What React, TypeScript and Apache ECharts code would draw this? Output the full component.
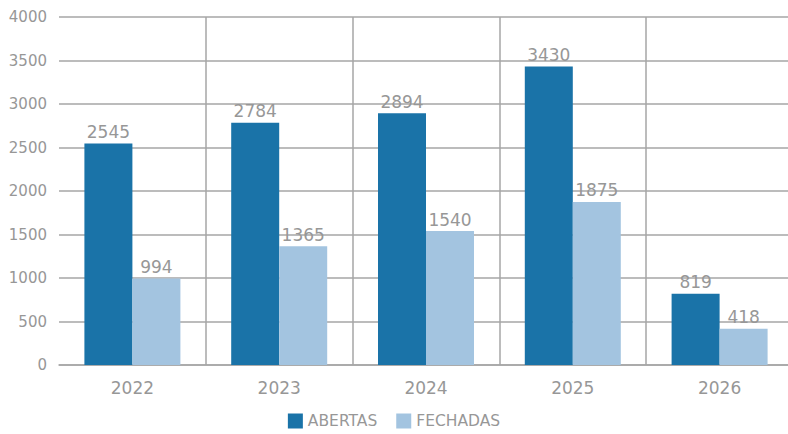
import React, { useEffect, useRef } from "react";
import * as echarts from "echarts";

const categories = ["2022", "2023", "2024", "2025", "2026"];
const abertas = [2545, 2784, 2894, 3430, 819];
const fechadas = [994, 1365, 1540, 1875, 418];
const seriesNames = ["ABERTAS", "FECHADAS"];

const FONT = "'DejaVu Sans', sans-serif";
const GREY = "#979797";

export default function App() {
  const ref = useRef<HTMLDivElement>(null);
  useEffect(() => {
    if (!ref.current) return;
    const chart = echarts.init(ref.current, null, { renderer: "svg" });
    const label = {
      show: true,
      position: "top",
      distance: 3,
      color: GREY,
      fontSize: 17,
      fontFamily: FONT,
      fontWeight: "normal",
    };
    chart.setOption({
      animation: false,
      grid: {
        left: 59,
        width: 734,
        top: 17,
        bottom: 69,
        containLabel: false,
        outerBoundsMode: "none",
      },
      legend: {
        bottom: 0,
        left: "center",
        itemWidth: 15,
        itemHeight: 15,
        itemGap: 19,
        icon: "rect",
        textStyle: { color: GREY, fontSize: 15.5, fontFamily: FONT },
        data: seriesNames,
      },
      xAxis: {
        type: "category",
        data: categories,
        axisTick: { show: false },
        axisLine: { show: true, lineStyle: { color: "#a6a6a6", width: 1.5 } },
        axisLabel: { color: GREY, fontSize: 17, fontFamily: FONT, margin: 14 },
        splitLine: { show: true, showMinLine: false, lineStyle: { color: "#a6a6a6", width: 1.5 } },
      },
      yAxis: {
        type: "value",
        min: 0,
        max: 4000,
        interval: 500,
        axisLine: { show: false },
        axisTick: { show: false },
        axisLabel: {
          color: GREY,
          fontSize: 15,
          fontFamily: FONT,
          margin: 12,
          formatter: (v: number) => String(v),
        },
        splitLine: { lineStyle: { color: "#a6a6a6", width: 1.5 } },
      },
      series: [
        {
          name: seriesNames[0],
          type: "bar",
          data: abertas,
          barWidth: 48,
          barGap: "0%",
          itemStyle: { color: "#1a73a8" },
          label,
        },
        {
          name: seriesNames[1],
          type: "bar",
          data: fechadas,
          barWidth: 48,
          barGap: "0%",
          itemStyle: { color: "#a3c4e0" },
          label,
        },
      ],
    });
    return () => chart.dispose();
  }, []);
  return (
    <div
      ref={ref}
      style={{ position: "absolute", left: 0, top: 0, width: 788, height: 434 }}
    />
  );
}
